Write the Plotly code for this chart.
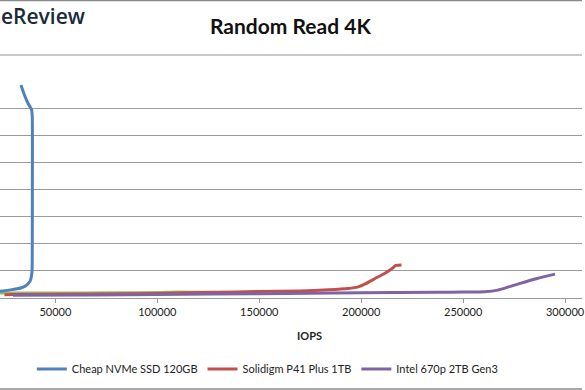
import plotly.graph_objects as go

# ---- data (IOPS vs average latency, ms) ----
cheap_iops = [18000, 22800, 28000, 33000, 35500, 37600, 38500, 38650, 38700, 38650, 38300, 36600, 34500, 33100]
cheap_lat = [0.22, 0.25, 0.30, 0.37, 0.45, 0.62, 0.95, 1.6, 4.0, 6.7, 6.95, 7.17, 7.55, 7.85]

solidigm_iops = [25000, 29200, 70000, 100000, 128700, 150000, 170000, 184000, 193600, 198500, 202000, 206800, 211600, 215000, 217000, 219800]
solidigm_lat = [0.12, 0.13, 0.15, 0.17, 0.21, 0.24, 0.26, 0.30, 0.35, 0.41, 0.52, 0.72, 0.91, 1.08, 1.20, 1.22]

intel_iops = [29200, 70000, 100000, 150000, 200000, 237500, 250000, 260500, 267000, 273200, 278000, 286300, 295100]
intel_lat = [0.10, 0.11, 0.13, 0.16, 0.19, 0.21, 0.22, 0.23, 0.29, 0.43, 0.54, 0.72, 0.88]

other_iops = [15000, 22800, 50000, 80000, 100000, 110000, 120000, 130000]
other_lat = [0.17, 0.18, 0.18, 0.19, 0.20, 0.22, 0.21, 0.20]

series_names = ["Cheap NVMe SSD 120GB", "Solidigm P41 Plus 1TB", "Intel 670p 2TB Gen3"]
x_ticks = [50000, 100000, 150000, 200000, 250000, 300000]

W, H = 585, 390
T, B = 81, 92
PH = H - T - B


def py(p):
    return (H - B - p) / PH


def ln(color):
    return dict(color=color, width=3, shape="spline", smoothing=0.6)


fig = go.Figure()
fig.add_trace(go.Scatter(x=other_iops, y=other_lat, mode="lines", showlegend=False,
                         line=ln("#9BBB59"), hoverinfo="skip"))
fig.add_trace(go.Scatter(x=cheap_iops, y=cheap_lat, mode="lines", name=series_names[0],
                         line=ln("#4F81BD")))
fig.add_trace(go.Scatter(x=solidigm_iops, y=solidigm_lat, mode="lines", name=series_names[1],
                         line=ln("#C0504D")))
fig.add_trace(go.Scatter(x=intel_iops, y=intel_lat, mode="lines", name=series_names[2],
                         line=ln("#8064A2")))

grey = "#9a9a9a"
fig.update_layout(
    width=W, height=H,
    margin=dict(l=0, r=0, t=T, b=B),
    paper_bgcolor="white", plot_bgcolor="white",
    showlegend=True,
    legend=dict(orientation="h", x=32 / W, xanchor="left", y=py(369), yanchor="middle",
                font=dict(family="Lato", size=11, color="#222"), bgcolor="rgba(0,0,0,0)"),
    xaxis=dict(range=[22829, 308304], tickvals=x_ticks, ticktext=[str(v) for v in x_ticks],
               showgrid=False, zeroline=False, showline=True, linecolor=grey, linewidth=1,
               ticks="outside", ticklen=4, tickcolor=grey, ticklabeloverflow="allow",
               tickfont=dict(family="Lato", size=11, color="#222")),
    yaxis=dict(range=[0, 8], dtick=1, showgrid=True, gridcolor=grey, gridwidth=1,
               zeroline=False, showline=False, showticklabels=False),
    annotations=[
        dict(text="<b>Random Read 4K</b>", x=292 / W, y=py(25), xref="paper", yref="paper",
             xanchor="center", yanchor="middle", showarrow=False,
             font=dict(family="Lato", size=21, color="#111")),
        dict(text="eReview", x=-0.002, y=py(16), xref="paper", yref="paper",
             xanchor="left", yanchor="middle", showarrow=False,
             font=dict(family="Open Sans", size=21, color="#1b2a38", weight=600)),
        dict(text="<b>IOPS</b>", x=311 / W, y=py(335), xref="paper", yref="paper",
             xanchor="center", yanchor="middle", showarrow=False,
             font=dict(family="Lato", size=11, color="#222")),
    ],
    shapes=[
        dict(type="line", xref="paper", yref="paper", x0=0, x1=1, y0=py(0.5), y1=py(0.5),
             line=dict(color="#8a8a8a", width=1.5)),
        dict(type="line", xref="paper", yref="paper", x0=0, x1=1, y0=py(55), y1=py(55),
             line=dict(color="#c8c8c8", width=2)),
        dict(type="line", xref="paper", yref="paper", x0=0, x1=1, y0=py(389), y1=py(389),
             line=dict(color="#8a8a8a", width=1.5)),
    ],
)

fig.write_html("out.html")
